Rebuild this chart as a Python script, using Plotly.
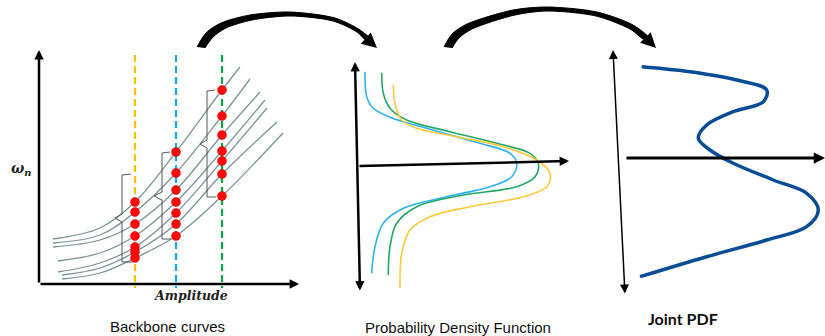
import plotly.graph_objects as go

# ---------------- data (pixel-space schematic coordinates) ----------------
BB_X = [[53, 100, 135, 176, 222, 240],
        [53, 100, 135, 176, 222, 250],
        [53, 100, 135, 176, 222, 260],
        [58, 100, 135, 176, 222, 265],
        [58, 100, 135, 176, 222, 267],
        [62, 100, 135, 176, 222, 277],
        [62, 100, 135, 176, 222, 283]]
BB_Y = [[239, 228, 202, 152, 90, 67],
        [243, 235, 212, 173, 116, 79],
        [247, 240, 224, 190, 135, 92],
        [261, 253, 236, 202, 151, 100],
        [272, 263, 247, 213, 161, 108],
        [275, 268, 252, 224, 174, 122],
        [279, 273, 258, 236, 196, 133]]
AMPLITUDES = [135, 176, 222]
AMP_COLORS = ["#FFC000", "#1AA7EC", "#0FA34A"]
DOT_IDX = [2, 3, 4]

# Brackets (x_tick, x_spine, x_cusp, y_top, y_cusp, y_bottom)
BRACKETS = [(131, 122, 115, 174, 218, 262),
            (170, 162, 154, 152, 196, 239),
            (215, 207, 200, 90, 144, 197)]

PDF_BLUE_X = [365, 366.7, 373.3, 390, 430, 480, 510, 516.7, 511.7, 490, 446.7, 403.3, 383.3, 375, 371.7]
PDF_BLUE_Y = [71.7, 96.7, 108.3, 117.3, 129.3, 143.3, 153.3, 163.3, 176.7, 186.7, 196.7, 208.3, 223.3, 246.7, 273.3]
PDF_GREEN_X = [381.7, 383.3, 390, 406.7, 450, 496.7, 530, 538.3, 535, 516.7, 463.3, 416.7, 396.7, 390, 388.3]
PDF_GREEN_Y = [72.7, 93.3, 108.3, 120, 131.7, 143.3, 153.3, 163.3, 176.7, 186.7, 195, 206.7, 223.3, 246.7, 275]
PDF_YELLOW_X = [393.3, 395, 401.7, 416.7, 456.7, 503.3, 536.7, 550, 546.7, 523.3, 470, 430, 410, 401.7, 400]
PDF_YELLOW_Y = [85, 103.3, 120, 128.3, 136.7, 146.7, 160, 173.3, 186.7, 196.7, 206.7, 216.7, 230, 253.3, 288.3]

JPDF_X = [641.7, 690, 736.7, 766.7, 763.3, 733.3, 706.7, 698.3, 710, 733.3, 773.3, 806.7, 818.3, 806.7, 766.7, 706.7, 640]
JPDF_Y = [66.7, 71.7, 80, 90, 101.7, 111.7, 125, 138.3, 150, 163.3, 180, 193.3, 210, 226.7, 240, 256.7, 276.7]

# Top curved arrows: outer edge then inner edge (tapered band)
ARC1_OUT_X = [197, 206, 221, 250, 290, 335, 360, 371]
ARC1_OUT_Y = [47, 33, 23, 15, 12, 18, 30, 40]
ARC1_IN_X = [205, 213, 226, 252, 290, 333, 357, 368]
ARC1_IN_Y = [48, 37, 28, 20, 16, 21, 32, 42]
ARC2_OUT_X = [444, 452, 467, 513, 547, 597, 633, 649]
ARC2_OUT_Y = [47, 34, 24, 10, 7, 12, 25, 38]
ARC2_IN_X = [452, 459, 472, 515, 547, 596, 630, 645]
ARC2_IN_Y = [48, 38, 29, 15, 11, 16, 29, 40]
ARC_TIPS = [(377, 48), (656, 48)]
ARC_TAILS = [(368, 40), (646, 38)]

AXES = [(39, 284, 39, 50, 2.5, False),
        (39, 284, 299, 284, 2.5, False),
        (360, 292, 355, 62, 2.5, True),
        (358, 166, 569, 161, 2.5, False),
        (625, 295, 613, 50, 1.5, True),
        (625, 158, 825, 158, 3, False)]

fig = go.Figure()

for xs, ys in zip(BB_X, BB_Y):
    fig.add_trace(go.Scatter(x=xs, y=ys, mode="lines",
                             line=dict(color="#7D9495", width=1.3, shape="spline", smoothing=1.0),
                             hoverinfo="skip"))

for a, c in zip(AMPLITUDES, AMP_COLORS):
    fig.add_trace(go.Scatter(x=[a, a], y=[55, 288], mode="lines",
                             line=dict(color=c, width=2.2, dash="7px,4px"), hoverinfo="skip"))

for (xt, xs_, xc, yt, yc, yb) in BRACKETS:
    fig.add_trace(go.Scatter(x=[xt, xs_, xs_, xc, xs_, xs_, xt + 1],
                             y=[yt, yt + 1, yc - 4, yc, yc + 4, yb, yb],
                             mode="lines", line=dict(color="#555555", width=1), hoverinfo="skip"))

for a, k in zip(AMPLITUDES, DOT_IDX):
    fig.add_trace(go.Scatter(x=[a] * len(BB_Y), y=[ys[k] for ys in BB_Y], mode="markers",
                             marker=dict(color="#FF0A0A", size=9, line=dict(color="#D00000", width=0.5)),
                             hoverinfo="skip"))

for xs, ys, c in [(PDF_BLUE_X, PDF_BLUE_Y, "#2EB2EE"),
                  (PDF_GREEN_X, PDF_GREEN_Y, "#23A765"),
                  (PDF_YELLOW_X, PDF_YELLOW_Y, "#FFC93C")]:
    fig.add_trace(go.Scatter(x=xs, y=ys, mode="lines",
                             line=dict(color=c, width=1.6, shape="spline", smoothing=1.0),
                             hoverinfo="skip"))

fig.add_trace(go.Scatter(x=JPDF_X, y=JPDF_Y, mode="lines",
                         line=dict(color="#0B4D94", width=3.5, shape="spline", smoothing=1.0),
                         hoverinfo="skip"))

for ox, oy, ix, iy in [(ARC1_OUT_X, ARC1_OUT_Y, ARC1_IN_X, ARC1_IN_Y),
                       (ARC2_OUT_X, ARC2_OUT_Y, ARC2_IN_X, ARC2_IN_Y)]:
    fig.add_trace(go.Scatter(x=ox + ix[::-1], y=oy + iy[::-1], mode="lines", fill="toself",
                             fillcolor="black", line=dict(color="black", width=1, shape="spline",
                                                          smoothing=0.8),
                             hoverinfo="skip"))

annotations = []
for (tx, ty, hx, hy, w, dbl) in AXES:
    annotations.append(dict(x=hx, y=hy, ax=tx, ay=ty, xref="x", yref="y", axref="x", ayref="y",
                            text="", showarrow=True, arrowhead=2,
                            arrowsize=1.2 if w < 2 else 0.75,
                            arrowwidth=w, arrowcolor="black",
                            arrowside="end+start" if dbl else "end"))
for (tx, ty), (sx, sy) in zip(ARC_TIPS, ARC_TAILS):
    annotations.append(dict(x=tx, y=ty, ax=sx, ay=sy, xref="x", yref="y", axref="x", ayref="y",
                            text="", showarrow=True, arrowhead=2, arrowsize=1.15,
                            arrowwidth=2.6, arrowcolor="black"))

serif = "DejaVu Serif"
annotations += [
    dict(x=21, y=169, text="<b><i>ω<sub>n</sub></i></b>", showarrow=False,
         font=dict(family=serif, size=14, color="#222")),
    dict(x=191, y=295, text="<b><i>Amplitude</i></b>", showarrow=False,
         font=dict(family=serif, size=12.5, color="#222")),
    dict(x=167, y=326, text="Backbone curves", showarrow=False,
         font=dict(family="Liberation Sans", size=15, color="#111")),
    dict(x=458, y=327, text="Probability Density Function", showarrow=False,
         font=dict(family="Liberation Sans", size=15, color="#111")),
    dict(x=683, y=318, text="<b>Joint PDF</b>", showarrow=False,
         font=dict(family="Lato", size=16, color="#111")),
]

fig.update_layout(
    width=825, height=336, margin=dict(l=0, r=0, t=0, b=0),
    paper_bgcolor="white", plot_bgcolor="white", showlegend=False,
    xaxis=dict(range=[0, 825], visible=False, fixedrange=True),
    yaxis=dict(range=[336, 0], visible=False, fixedrange=True),
    annotations=annotations,
)

fig.write_html("out.html")
